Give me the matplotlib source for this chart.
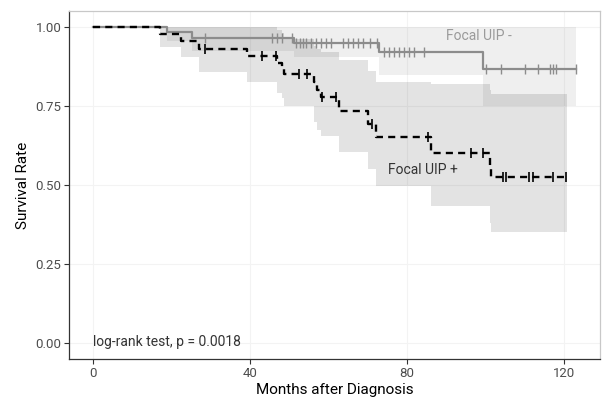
import numpy as np
import matplotlib
matplotlib.use("Agg")
import matplotlib.pyplot as plt

plt.rcParams['font.family'] = ['Roboto', 'DejaVu Sans']

# ---- Focal UIP - (solid grey) ----
neg_time = [0, 18.8, 25.2, 51.1, 72.8, 99.2]
neg_surv = [1.0, 0.984, 0.966, 0.948, 0.919, 0.866]
neg_lower = [1.0, 0.955, 0.922, 0.903, 0.848, 0.750]
neg_upper = [1.0, 1.0, 1.0, 1.0, 1.0, 1.0]
neg_end = 123.0
neg_censor = [28.6, 45.6, 46.9, 48.2, 50.7,
              51.7, 52.6, 53.5, 54.3, 55.5, 56.8, 58.1, 59.3, 60.6,
              63.7, 65.0, 66.3, 67.5, 68.8, 70.5, 72.2,
              74.1, 75.4, 76.7, 78.0, 79.2, 80.5, 81.8, 84.4,
              100.1, 104.0, 109.9, 113.3, 116.3, 117.1, 118.0, 123.0]

# ---- Focal UIP + (dashed black) ----
pos_time = [0, 17.1, 22.4, 26.9, 39.2, 46.9, 48.0, 48.6, 56.2, 57.0, 58.0,
            62.6, 69.9, 72.0, 86.0, 101.0, 101.4]
pos_surv = [1.0, 0.977, 0.955, 0.930, 0.906, 0.885, 0.868, 0.851, 0.826, 0.800, 0.777,
            0.735, 0.693, 0.651, 0.600, 0.560, 0.525]
pos_lower = [1.0, 0.935, 0.903, 0.856, 0.824, 0.790, 0.775, 0.751, 0.700, 0.675, 0.656,
             0.603, 0.550, 0.498, 0.435, 0.380, 0.351]
pos_upper = [1.0, 1.0, 1.0, 1.0, 1.0, 0.99, 0.98, 0.96, 0.94, 0.93, 0.92,
             0.895, 0.86, 0.826, 0.818, 0.80, 0.788]
pos_end = 120.7
pos_censor = [28.6, 43.1, 46.5, 52.4, 54.6, 58.4, 61.8, 71.1, 85.2,
              96.2, 99.2, 104.3, 105.2, 111.1, 112.0, 117.1, 120.5]

x_ticks = [0, 40, 80, 120]
y_ticks = [0.0, 0.25, 0.5, 0.75, 1.0]
y_ticklabels = ["0.00", "0.25", "0.50", "0.75", "1.00"]

fig = plt.figure(figsize=(6.05, 4.04), dpi=100)
ax = fig.add_axes([0.114, 0.111, 0.878, 0.862])

def ext(t, v, end):
    return np.array(list(t) + [end]), np.array(list(v) + [v[-1]])

def surv_at(times, t, s):
    idx = np.searchsorted(np.array(t), np.array(times), side='right') - 1
    return np.array(s)[idx]

grey = '#8c8c8c'

# bands
tn, ln = ext(neg_time, neg_lower, neg_end)
_, un = ext(neg_time, neg_upper, neg_end)
ax.fill_between(tn, ln, un, step='post', color='#7f7f7f', alpha=0.12, lw=0, zorder=1)
tp, lp = ext(pos_time, pos_lower, pos_end)
_, up = ext(pos_time, pos_upper, pos_end)
ax.fill_between(tp, lp, up, step='post', color='#000000', alpha=0.11, lw=0, zorder=1)

# curves
t, s = ext(neg_time, neg_surv, neg_end)
ax.step(t, s, where='post', color=grey, lw=1.6, zorder=3)
t, s = ext(pos_time, pos_surv, pos_end)
ax.step(t, s, where='post', color='black', lw=1.7, linestyle=(0, (3, 2.2)), zorder=4)

# censor marks
ax.plot(neg_censor, surv_at(neg_censor, neg_time, neg_surv), linestyle='none',
        marker='|', markersize=6.5, mew=1.0, color=grey, zorder=3)
ax.plot(pos_censor, surv_at(pos_censor, pos_time, pos_surv), linestyle='none',
        marker='|', markersize=6.5, mew=1.2, color='black', zorder=4)

# annotations
ax.text(89.9, 0.972, "Focal UIP -", color='#9a9a9a', fontsize=10, va='center', ha='left')
ax.text(75.0, 0.546, "Focal UIP +", color='#333333', fontsize=10, va='center', ha='left')
ax.text(0.0, 0.005, "log-rank test, p = 0.0018", color='#333333', fontsize=10,
        va='center', ha='left')

ax.set_xlim(-6.15, 129.15)
ax.set_ylim(-0.05, 1.05)
ax.set_xticks(x_ticks)
ax.set_yticks(y_ticks)
ax.set_yticklabels(y_ticklabels)
ax.grid(True, color='#f3f3f3', lw=0.8, zorder=0)
ax.set_axisbelow(True)

ax.tick_params(axis='both', colors='#333333', labelcolor='#4d4d4d', labelsize=9.5,
               length=3.5, width=0.8, pad=2)
for side in ['left', 'bottom']:
    ax.spines[side].set_color('#333333')
    ax.spines[side].set_linewidth(0.9)
for side in ['top', 'right']:
    ax.spines[side].set_color('#c8c8c8')
    ax.spines[side].set_linewidth(0.9)

ax.set_xlabel("Months after Diagnosis", fontsize=11, color='black', labelpad=2)
ax.set_ylabel("Survival Rate", fontsize=11, color='black', labelpad=4)

fig.savefig("out.png", dpi=100)
